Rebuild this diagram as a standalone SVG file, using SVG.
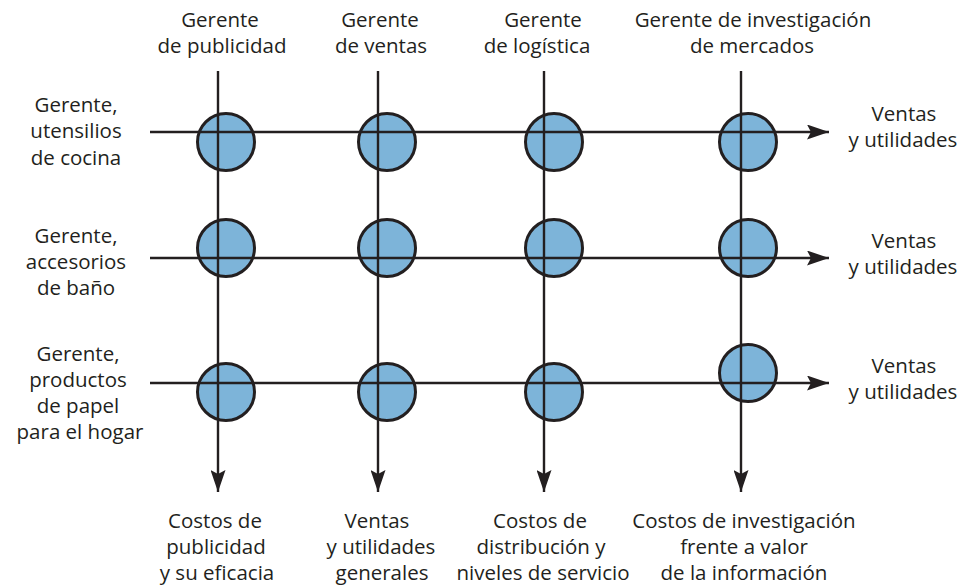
<svg xmlns="http://www.w3.org/2000/svg" width="968" height="587" viewBox="0 0 968 587">
<defs>
<style>
text{font-family:"Open Sans","Liberation Sans",sans-serif;font-size:20.5px;fill:#231f20;text-anchor:middle}
.ln{stroke:#231f20;stroke-width:2.4;fill:none}
.nd{fill:#7db4d9;stroke:#231f20;stroke-width:3}
</style>
<marker id="ah" viewBox="0 0 22 15" refX="22" refY="7.5" markerWidth="22" markerHeight="15" markerUnits="userSpaceOnUse" orient="auto">
<path d="M0,0 L22,7.5 L0,15 L4,7.5 Z" fill="#231f20"/>
</marker>
</defs>
<rect width="968" height="587" fill="#fff"/>
<g id="n11"><circle class="nd" cx="226" cy="142" r="28.5"/></g>
<g id="n12"><circle class="nd" cx="387" cy="142" r="28.5"/></g>
<g id="n13"><circle class="nd" cx="554" cy="142" r="28.5"/></g>
<g id="n14"><circle class="nd" cx="748" cy="142" r="28.5"/></g>
<g id="n21"><circle class="nd" cx="226" cy="248" r="28.5"/></g>
<g id="n22"><circle class="nd" cx="387" cy="248" r="28.5"/></g>
<g id="n23"><circle class="nd" cx="554" cy="248" r="28.5"/></g>
<g id="n24"><circle class="nd" cx="748" cy="248" r="28.5"/></g>
<g id="n31"><circle class="nd" cx="226" cy="392" r="28.5"/></g>
<g id="n32"><circle class="nd" cx="387" cy="392" r="28.5"/></g>
<g id="n33"><circle class="nd" cx="554" cy="392" r="28.5"/></g>
<g id="n34"><circle class="nd" cx="748" cy="373" r="28.5"/></g>
<g id="connectors">
<line class="ln" x1="218" y1="71" x2="218" y2="492" marker-end="url(#ah)"/>
<line class="ln" x1="378" y1="71" x2="378" y2="492" marker-end="url(#ah)"/>
<line class="ln" x1="544" y1="71" x2="544" y2="492" marker-end="url(#ah)"/>
<line class="ln" x1="741" y1="71" x2="741" y2="492" marker-end="url(#ah)"/>
<line class="ln" x1="150" y1="132" x2="829" y2="132" marker-end="url(#ah)"/>
<line class="ln" x1="150" y1="258" x2="829" y2="258" marker-end="url(#ah)"/>
<line class="ln" x1="150" y1="383" x2="829" y2="383" marker-end="url(#ah)"/>
</g>
<g id="c1-top"><text x="220" y="27">Gerente</text><text x="222" y="53">de publicidad</text></g>
<g id="c2-top"><text x="380" y="27">Gerente</text><text x="381" y="53">de ventas</text></g>
<g id="c3-top"><text x="543" y="27">Gerente</text><text x="537" y="53">de logística</text></g>
<g id="c4-top"><text x="753" y="27">Gerente de investigación</text><text x="752" y="53">de mercados</text></g>
<g id="r1-left"><text x="76" y="112">Gerente,</text><text x="76" y="138">utensilios</text><text x="76" y="165">de cocina</text></g>
<g id="r2-left"><text x="76" y="243">Gerente,</text><text x="76" y="269">accesorios</text><text x="76" y="295">de baño</text></g>
<g id="r3-left"><text x="78" y="361">Gerente,</text><text x="78" y="387">productos</text><text x="78" y="413">de papel</text><text x="80" y="439">para el hogar</text></g>
<g id="r1-right"><text x="904" y="121">Ventas</text><text x="903" y="147">y utilidades</text></g>
<g id="r2-right"><text x="904" y="248">Ventas</text><text x="903" y="274">y utilidades</text></g>
<g id="r3-right"><text x="904" y="373">Ventas</text><text x="903" y="399">y utilidades</text></g>
<g id="c1-bottom"><text x="215" y="528">Costos de</text><text x="216" y="554">publicidad</text><text x="217" y="580">y su eficacia</text></g>
<g id="c2-bottom"><text x="377" y="528">Ventas</text><text x="381" y="554">y utilidades</text><text x="382" y="580">generales</text></g>
<g id="c3-bottom"><text x="540" y="528">Costos de</text><text x="541" y="554">distribución y</text><text x="543" y="580">niveles de servicio</text></g>
<g id="c4-bottom"><text x="744" y="528">Costos de investigación</text><text x="744" y="554">frente a valor</text><text x="744" y="580">de la información</text></g>
</svg>
